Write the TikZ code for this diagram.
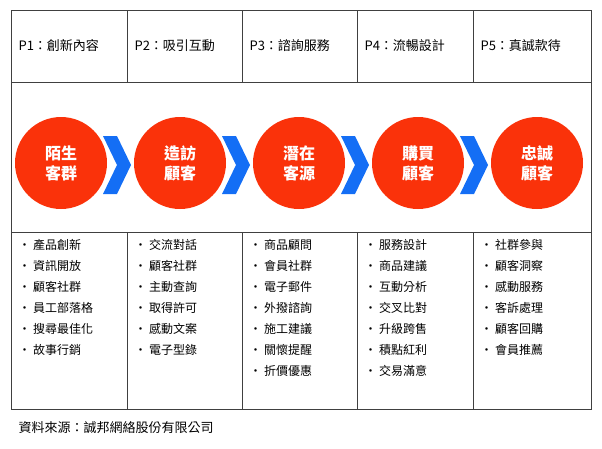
\documentclass[tikz,border=0pt]{standalone}
\usepackage{fontspec}
\setmainfont{Noto Sans CJK TC}
\begin{document}
\begin{tikzpicture}[x=1pt,y=-1pt,
  cell/.style={draw=black!75,line width=0.8pt},
  stage/.style={circle,fill=red!20!orange!0,fill={rgb,255:red,250;green,50;blue,10},minimum size=92pt,inner sep=0pt,text=white,font=\fontsize{16}{20}\selectfont\bfseries,align=center},
  head/.style={anchor=west,font=\fontsize{13}{15}\selectfont},
  item/.style={anchor=north west,font=\fontsize{12}{21}\selectfont,align=left},
  chev/.style={fill={rgb,255:red,20;green,110;blue,245}}]
\useasboundingbox (0,0) rectangle (602,448);
\draw[cell] (11,10) rectangle (591,409);
\draw[cell] (11,82) -- (591,82);
\draw[cell] (11,232) -- (591,232);
\foreach \x in {127,242,357,473}{
  \draw[cell] (\x,10) -- (\x,82);
  \draw[cell] (\x,232) -- (\x,409);
}
\node[head] (h1) at (15,46) {P1：創新內容};
\node[head] (h2) at (131,46) {P2：吸引互動};
\node[head] (h3) at (246,46) {P3：諮詢服務};
\node[head] (h4) at (361,46) {P4：流暢設計};
\node[head] (h5) at (477,46) {P5：真誠款待};
\node[stage] (s1) at (61,163) {陌生\\客群};
\node[stage] (s2) at (180,163) {造訪\\顧客};
\node[stage] (s3) at (299,163) {潛在\\客源};
\node[stage] (s4) at (418,163) {購買\\顧客};
\node[stage] (s5) at (537,163) {忠誠\\顧客};
\foreach \c in {103,222,341,460}{
  \fill[chev] (\c,136) -- (\c+14,136) -- (\c+28,165) -- (\c+14,194) -- (\c,194) -- (\c+14,165) -- cycle;
}
\node[item] (l1) at (15,236) {• 產品創新\\• 資訊開放\\• 顧客社群\\• 員工部落格\\• 搜尋最佳化\\• 故事行銷};
\node[item] (l2) at (131,236) {• 交流對話\\• 顧客社群\\• 主動查詢\\• 取得許可\\• 感動文案\\• 電子型錄};
\node[item] (l3) at (246,236) {• 商品顧問\\• 會員社群\\• 電子郵件\\• 外撥諮詢\\• 施工建議\\• 關懷提醒\\• 折價優惠};
\node[item] (l4) at (361,236) {• 服務設計\\• 商品建議\\• 互動分析\\• 交叉比對\\• 升級跨售\\• 積點紅利\\• 交易滿意};
\node[item] (l5) at (477,236) {• 社群參與\\• 顧客洞察\\• 感動服務\\• 客訴處理\\• 顧客回購\\• 會員推薦};
\node[anchor=west,font=\fontsize{13}{15}\selectfont] (src) at (15,428) {資料來源：誠邦網絡股份有限公司};
\end{tikzpicture}
\end{document}
